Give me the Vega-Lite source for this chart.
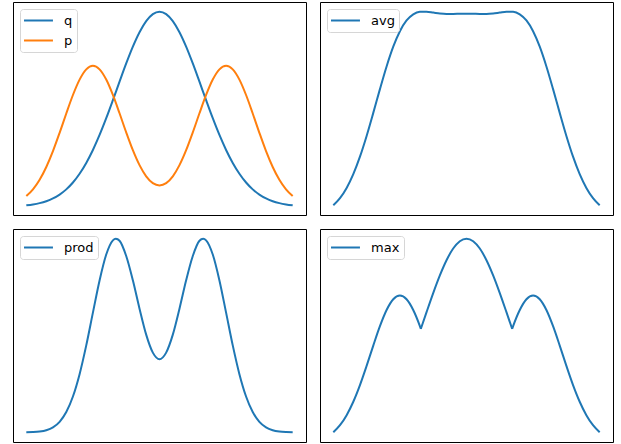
{
  "$schema": "https://vega.github.io/schema/vega-lite/v6.json",
  "padding": {"left": 12, "top": 1, "right": 0, "bottom": 0},
  "autosize": {"type": "pad"},
  "background": "white",
  "spacing": 12,
  "columns": 2,
  "config": {
    "view": {"stroke": "#000000", "strokeWidth": 1},
    "line": {"strokeWidth": 2, "interpolate": "monotone"},
    "legend": {
      "orient": "top-left",
      "offset": 7,
      "symbolType": "M-1.15,0H3.3",
      "symbolSize": 169,
      "symbolStrokeWidth": 2,
      "labelFont": "DejaVu Sans",
      "labelFontSize": 13,
      "labelColor": "#000000",
      "labelOffset": 25,
      "padding": 4,
      "rowPadding": 5,
      "strokeColor": "#d6d6d6",
      "fillColor": "#ffffff",
      "cornerRadius": 3
    }
  },
  "datasets": {
    "pq": [
      {"x": -1, "y": 0.00717, "series": "q"}, {"x": -0.95, "y": 0.0116, "series": "q"}, {"x": -0.9, "y": 0.01832, "series": "q"}, {"x": -0.85, "y": 0.02822, "series": "q"}, {"x": -0.8, "y": 0.04241, "series": "q"}, {"x": -0.75, "y": 0.06218, "series": "q"}, {"x": -0.7, "y": 0.08894, "series": "q"}, {"x": -0.65, "y": 0.12414, "series": "q"}, {"x": -0.6, "y": 0.16901, "series": "q"}, {"x": -0.55, "y": 0.22449, "series": "q"}, {"x": -0.5, "y": 0.29096, "series": "q"}, {"x": -0.45, "y": 0.36788, "series": "q"}, {"x": -0.4, "y": 0.45381, "series": "q"}, {"x": -0.35, "y": 0.54613, "series": "q"}, {"x": -0.3, "y": 0.64118, "series": "q"}, {"x": -0.25, "y": 0.73444, "series": "q"}, {"x": -0.2, "y": 0.82076, "series": "q"}, {"x": -0.15, "y": 0.89484, "series": "q"}, {"x": -0.1, "y": 0.95182, "series": "q"}, {"x": -0.05, "y": 0.98773, "series": "q"}, {"x": 0, "y": 1, "series": "q"},
      {"x": 0.05, "y": 0.98773, "series": "q"}, {"x": 0.1, "y": 0.95182, "series": "q"}, {"x": 0.15, "y": 0.89484, "series": "q"}, {"x": 0.2, "y": 0.82076, "series": "q"}, {"x": 0.25, "y": 0.73444, "series": "q"}, {"x": 0.3, "y": 0.64118, "series": "q"}, {"x": 0.35, "y": 0.54613, "series": "q"}, {"x": 0.4, "y": 0.45381, "series": "q"}, {"x": 0.45, "y": 0.36788, "series": "q"}, {"x": 0.5, "y": 0.29096, "series": "q"}, {"x": 0.55, "y": 0.22449, "series": "q"}, {"x": 0.6, "y": 0.16901, "series": "q"}, {"x": 0.65, "y": 0.12414, "series": "q"}, {"x": 0.7, "y": 0.08894, "series": "q"}, {"x": 0.75, "y": 0.06218, "series": "q"}, {"x": 0.8, "y": 0.04241, "series": "q"}, {"x": 0.85, "y": 0.02822, "series": "q"}, {"x": 0.9, "y": 0.01832, "series": "q"}, {"x": 0.95, "y": 0.0116, "series": "q"}, {"x": 1, "y": 0.00717, "series": "q"},
      {"x": -1, "y": 0.05462, "series": "p"}, {"x": -0.95, "y": 0.08922, "series": "p"}, {"x": -0.9, "y": 0.13839, "series": "p"}, {"x": -0.85, "y": 0.20387, "series": "p"}, {"x": -0.8, "y": 0.2852, "series": "p"}, {"x": -0.75, "y": 0.37893, "series": "p"}, {"x": -0.7, "y": 0.47807, "series": "p"}, {"x": -0.65, "y": 0.57282, "series": "p"}, {"x": -0.6, "y": 0.65177, "series": "p"}, {"x": -0.55, "y": 0.70427, "series": "p"}, {"x": -0.5, "y": 0.72272, "series": "p"}, {"x": -0.45, "y": 0.70434, "series": "p"}, {"x": -0.4, "y": 0.65193, "series": "p"}, {"x": -0.35, "y": 0.57323, "series": "p"}, {"x": -0.3, "y": 0.47904, "series": "p"}, {"x": -0.25, "y": 0.38109, "series": "p"}, {"x": -0.2, "y": 0.28977, "series": "p"}, {"x": -0.15, "y": 0.21307, "series": "p"}, {"x": -0.1, "y": 0.15592, "series": "p"}, {"x": -0.05, "y": 0.12097, "series": "p"}, {"x": 0, "y": 0.10923, "series": "p"},
      {"x": 0.05, "y": 0.12097, "series": "p"}, {"x": 0.1, "y": 0.15592, "series": "p"}, {"x": 0.15, "y": 0.21307, "series": "p"}, {"x": 0.2, "y": 0.28977, "series": "p"}, {"x": 0.25, "y": 0.38109, "series": "p"}, {"x": 0.3, "y": 0.47904, "series": "p"}, {"x": 0.35, "y": 0.57323, "series": "p"}, {"x": 0.4, "y": 0.65193, "series": "p"}, {"x": 0.45, "y": 0.70434, "series": "p"}, {"x": 0.5, "y": 0.72272, "series": "p"}, {"x": 0.55, "y": 0.70427, "series": "p"}, {"x": 0.6, "y": 0.65177, "series": "p"}, {"x": 0.65, "y": 0.57282, "series": "p"}, {"x": 0.7, "y": 0.47807, "series": "p"}, {"x": 0.75, "y": 0.37893, "series": "p"}, {"x": 0.8, "y": 0.2852, "series": "p"}, {"x": 0.85, "y": 0.20387, "series": "p"}, {"x": 0.9, "y": 0.13839, "series": "p"}, {"x": 0.95, "y": 0.08922, "series": "p"}, {"x": 1, "y": 0.05462, "series": "p"}
    ],
    "avg": [
      {"x": -1, "y": 0.0309, "series": "avg"}, {"x": -0.95, "y": 0.05041, "series": "avg"}, {"x": -0.9, "y": 0.07836, "series": "avg"}, {"x": -0.85, "y": 0.11605, "series": "avg"}, {"x": -0.8, "y": 0.16381, "series": "avg"}, {"x": -0.75, "y": 0.22056, "series": "avg"}, {"x": -0.7, "y": 0.28351, "series": "avg"}, {"x": -0.65, "y": 0.34848, "series": "avg"}, {"x": -0.6, "y": 0.41039, "series": "avg"}, {"x": -0.55, "y": 0.46438, "series": "avg"}, {"x": -0.5, "y": 0.50684, "series": "avg"}, {"x": -0.45, "y": 0.53611, "series": "avg"}, {"x": -0.4, "y": 0.55287, "series": "avg"}, {"x": -0.35, "y": 0.55968, "series": "avg"}, {"x": -0.3, "y": 0.56011, "series": "avg"}, {"x": -0.25, "y": 0.55777, "series": "avg"}, {"x": -0.2, "y": 0.55527, "series": "avg"}, {"x": -0.15, "y": 0.55396, "series": "avg"}, {"x": -0.1, "y": 0.55387, "series": "avg"}, {"x": -0.05, "y": 0.55435, "series": "avg"}, {"x": 0, "y": 0.55462, "series": "avg"},
      {"x": 0.05, "y": 0.55435, "series": "avg"}, {"x": 0.1, "y": 0.55387, "series": "avg"}, {"x": 0.15, "y": 0.55396, "series": "avg"}, {"x": 0.2, "y": 0.55527, "series": "avg"}, {"x": 0.25, "y": 0.55777, "series": "avg"}, {"x": 0.3, "y": 0.56011, "series": "avg"}, {"x": 0.35, "y": 0.55968, "series": "avg"}, {"x": 0.4, "y": 0.55287, "series": "avg"}, {"x": 0.45, "y": 0.53611, "series": "avg"}, {"x": 0.5, "y": 0.50684, "series": "avg"}, {"x": 0.55, "y": 0.46438, "series": "avg"}, {"x": 0.6, "y": 0.41039, "series": "avg"}, {"x": 0.65, "y": 0.34848, "series": "avg"}, {"x": 0.7, "y": 0.28351, "series": "avg"}, {"x": 0.75, "y": 0.22056, "series": "avg"}, {"x": 0.8, "y": 0.16381, "series": "avg"}, {"x": 0.85, "y": 0.11605, "series": "avg"}, {"x": 0.9, "y": 0.07836, "series": "avg"}, {"x": 0.95, "y": 0.05041, "series": "avg"}, {"x": 1, "y": 0.0309, "series": "avg"}
    ],
    "prod": [
      {"x": -1, "y": 0.00021, "series": "prod"}, {"x": -0.95, "y": 0.00056, "series": "prod"}, {"x": -0.9, "y": 0.0015, "series": "prod"}, {"x": -0.85, "y": 0.00367, "series": "prod"}, {"x": -0.8, "y": 0.00832, "series": "prod"}, {"x": -0.75, "y": 0.01731, "series": "prod"}, {"x": -0.7, "y": 0.03313, "series": "prod"}, {"x": -0.65, "y": 0.05836, "series": "prod"}, {"x": -0.6, "y": 0.09463, "series": "prod"}, {"x": -0.55, "y": 0.14132, "series": "prod"}, {"x": -0.5, "y": 0.1945, "series": "prod"}, {"x": -0.45, "y": 0.24683, "series": "prod"}, {"x": -0.4, "y": 0.28886, "series": "prod"}, {"x": -0.35, "y": 0.31194, "series": "prod"}, {"x": -0.328, "y": 0.3146, "series": "prod"}, {"x": -0.3, "y": 0.3113, "series": "prod"}, {"x": -0.25, "y": 0.28652, "series": "prod"}, {"x": -0.2, "y": 0.24703, "series": "prod"}, {"x": -0.15, "y": 0.20092, "series": "prod"}, {"x": -0.1, "y": 0.15879, "series": "prod"}, {"x": -0.05, "y": 0.12957, "series": "prod"}, {"x": 0, "y": 0.1189, "series": "prod"},
      {"x": 0.05, "y": 0.12957, "series": "prod"}, {"x": 0.1, "y": 0.15879, "series": "prod"}, {"x": 0.15, "y": 0.20092, "series": "prod"}, {"x": 0.2, "y": 0.24703, "series": "prod"}, {"x": 0.25, "y": 0.28652, "series": "prod"}, {"x": 0.3, "y": 0.3113, "series": "prod"}, {"x": 0.328, "y": 0.3146, "series": "prod"}, {"x": 0.35, "y": 0.31194, "series": "prod"}, {"x": 0.4, "y": 0.28886, "series": "prod"}, {"x": 0.45, "y": 0.24683, "series": "prod"}, {"x": 0.5, "y": 0.1945, "series": "prod"}, {"x": 0.55, "y": 0.14132, "series": "prod"}, {"x": 0.6, "y": 0.09463, "series": "prod"}, {"x": 0.65, "y": 0.05836, "series": "prod"}, {"x": 0.7, "y": 0.03313, "series": "prod"}, {"x": 0.75, "y": 0.01731, "series": "prod"}, {"x": 0.8, "y": 0.00832, "series": "prod"}, {"x": 0.85, "y": 0.00367, "series": "prod"}, {"x": 0.9, "y": 0.0015, "series": "prod"}, {"x": 0.95, "y": 0.00056, "series": "prod"}, {"x": 1, "y": 0.00021, "series": "prod"}
    ],
    "max": [
      {"x": -1, "y": 0.05462, "series": "max", "seg": "a"}, {"x": -0.95, "y": 0.08922, "series": "max", "seg": "a"}, {"x": -0.9, "y": 0.13839, "series": "max", "seg": "a"}, {"x": -0.85, "y": 0.20387, "series": "max", "seg": "a"}, {"x": -0.8, "y": 0.2852, "series": "max", "seg": "a"}, {"x": -0.75, "y": 0.37893, "series": "max", "seg": "a"}, {"x": -0.7, "y": 0.47807, "series": "max", "seg": "a"}, {"x": -0.65, "y": 0.57282, "series": "max", "seg": "a"}, {"x": -0.6, "y": 0.65177, "series": "max", "seg": "a"}, {"x": -0.55, "y": 0.70427, "series": "max", "seg": "a"}, {"x": -0.5, "y": 0.72272, "series": "max", "seg": "a"}, {"x": -0.45, "y": 0.70434, "series": "max", "seg": "a"}, {"x": -0.4, "y": 0.65193, "series": "max", "seg": "a"}, {"x": -0.35, "y": 0.57323, "series": "max", "seg": "a"}, {"x": -0.3427, "y": 0.56, "series": "max", "seg": "a"},
      {"x": -0.3427, "y": 0.56, "series": "max", "seg": "b"}, {"x": -0.3, "y": 0.64118, "series": "max", "seg": "b"}, {"x": -0.25, "y": 0.73444, "series": "max", "seg": "b"}, {"x": -0.2, "y": 0.82076, "series": "max", "seg": "b"}, {"x": -0.15, "y": 0.89484, "series": "max", "seg": "b"}, {"x": -0.1, "y": 0.95182, "series": "max", "seg": "b"}, {"x": -0.05, "y": 0.98773, "series": "max", "seg": "b"}, {"x": 0, "y": 1, "series": "max", "seg": "b"}, {"x": 0.05, "y": 0.98773, "series": "max", "seg": "b"}, {"x": 0.1, "y": 0.95182, "series": "max", "seg": "b"}, {"x": 0.15, "y": 0.89484, "series": "max", "seg": "b"}, {"x": 0.2, "y": 0.82076, "series": "max", "seg": "b"}, {"x": 0.25, "y": 0.73444, "series": "max", "seg": "b"}, {"x": 0.3, "y": 0.64118, "series": "max", "seg": "b"}, {"x": 0.3427, "y": 0.56, "series": "max", "seg": "b"},
      {"x": 0.3427, "y": 0.56, "series": "max", "seg": "c"}, {"x": 0.35, "y": 0.57323, "series": "max", "seg": "c"}, {"x": 0.4, "y": 0.65193, "series": "max", "seg": "c"}, {"x": 0.45, "y": 0.70434, "series": "max", "seg": "c"}, {"x": 0.5, "y": 0.72272, "series": "max", "seg": "c"}, {"x": 0.55, "y": 0.70427, "series": "max", "seg": "c"}, {"x": 0.6, "y": 0.65177, "series": "max", "seg": "c"}, {"x": 0.65, "y": 0.57282, "series": "max", "seg": "c"}, {"x": 0.7, "y": 0.47807, "series": "max", "seg": "c"}, {"x": 0.75, "y": 0.37893, "series": "max", "seg": "c"}, {"x": 0.8, "y": 0.2852, "series": "max", "seg": "c"}, {"x": 0.85, "y": 0.20387, "series": "max", "seg": "c"}, {"x": 0.9, "y": 0.13839, "series": "max", "seg": "c"}, {"x": 0.95, "y": 0.08922, "series": "max", "seg": "c"}, {"x": 1, "y": 0.05462, "series": "max", "seg": "c"}
    ]
  },
  "concat": [
    {
      "width": 293, "height": 213,
      "data": {"name": "pq"},
      "mark": {"type": "line"},
      "encoding": {
        "x": {"field": "x", "type": "quantitative", "scale": {"domain": [-1.1, 1.1], "nice": false, "zero": false}, "axis": null},
        "y": {"field": "y", "type": "quantitative", "scale": {"domain": [-0.04247, 1.04964], "nice": false, "zero": false}, "axis": null},
        "color": {"field": "series", "type": "nominal", "scale": {"domain": ["q", "p"], "range": ["#1f77b4", "#ff7f0e"]}, "legend": {"title": null}}
      }
    },
    {
      "width": 293, "height": 213,
      "data": {"name": "avg"},
      "mark": {"type": "line"},
      "encoding": {
        "x": {"field": "x", "type": "quantitative", "scale": {"domain": [-1.1, 1.1], "nice": false, "zero": false}, "axis": null},
        "y": {"field": "y", "type": "quantitative", "scale": {"domain": [0.00444, 0.58657], "nice": false, "zero": false}, "axis": null},
        "color": {"field": "series", "type": "nominal", "scale": {"domain": ["avg"], "range": ["#1f77b4"]}, "legend": {"title": null}}
      }
    },
    {
      "width": 293, "height": 213,
      "data": {"name": "prod"},
      "mark": {"type": "line"},
      "encoding": {
        "x": {"field": "x", "type": "quantitative", "scale": {"domain": [-1.1, 1.1], "nice": false, "zero": false}, "axis": null},
        "y": {"field": "y", "type": "quantitative", "scale": {"domain": [-0.01551, 0.33032], "nice": false, "zero": false}, "axis": null},
        "color": {"field": "series", "type": "nominal", "scale": {"domain": ["prod"], "range": ["#1f77b4"]}, "legend": {"title": null}}
      }
    },
    {
      "width": 293, "height": 213,
      "data": {"name": "max"},
      "mark": {"type": "line"},
      "encoding": {
        "x": {"field": "x", "type": "quantitative", "scale": {"domain": [-1.1, 1.1], "nice": false, "zero": false}, "axis": null},
        "y": {"field": "y", "type": "quantitative", "scale": {"domain": [0.00735, 1.04727], "nice": false, "zero": false}, "axis": null},
        "color": {"field": "series", "type": "nominal", "scale": {"domain": ["max"], "range": ["#1f77b4"]}, "legend": {"title": null}},
        "detail": {"field": "seg", "type": "nominal"}
      }
    }
  ],
  "resolve": {
    "scale": {"x": "independent", "y": "independent", "color": "independent"},
    "legend": {"color": "independent"}
  }
}
